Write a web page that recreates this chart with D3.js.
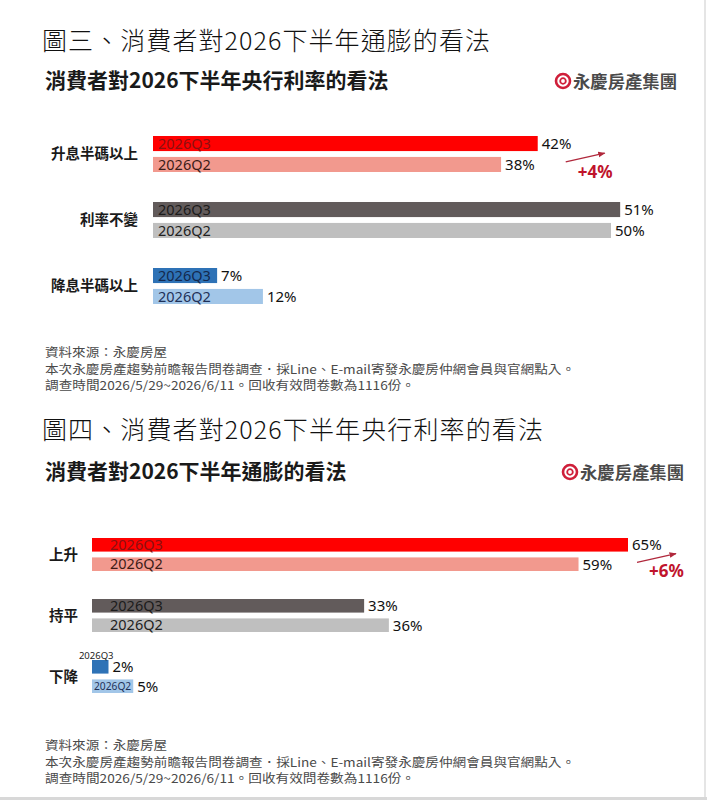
<!DOCTYPE html>
<html>
<head>
<meta charset="utf-8">
<script src="https://cdn.jsdelivr.net/npm/d3@7"></script>
<style>
  body { margin: 0; background: #fff; }
  svg { display: block; }
</style>
</head>
<body>
<div id="visualization"></div>
<script>
// data
var series = ["2026Q3", "2026Q2"];

var rate_categories = ["升息半碼以上", "利率不變", "降息半碼以上"];
var rate_q3 = [42, 51, 7];
var rate_q2 = [38, 50, 12];

var infl_categories = ["上升", "持平", "下降"];
var infl_q3 = [65, 33, 2];
var infl_q2 = [59, 36, 5];

var source_lines = [
    "資料來源：永慶房屋",
    "本次永慶房產趨勢前瞻報告問卷調查．採Line、E-mail寄發永慶房仲網會員與官網點入。",
    "調查時間2026/5/29~2026/6/11。回收有效問卷數為1116份。"
];
var source_widths = [122, 530, 370];
var logo_text = "永慶房產集團";

// colours per category row: [Q3, Q2]
var bar_colors = [["#ff0000", "#f2998e"], ["#625b5b", "#bfbfbf"], ["#2e72b6", "#a2c6e8"]];
var inner_colors = [["#8c1010", "#3d1c18"], ["#1c1c1c", "#222222"], ["#14294d", "#1f3158"]];

var CJK = "'Noto Sans CJK TC', 'Noto Sans', sans-serif";
var LAT = "'Noto Sans', 'Open Sans', sans-serif";

var width = 707, height = 800;

var svg = d3.select("#visualization")
    .append("svg")
    .attr("width", width)
    .attr("height", height);

svg.append("rect").attr("width", width).attr("height", height).attr("fill", "#fff");

// frame lines at the right and bottom edges
svg.append("line").attr("x1", 705).attr("x2", 705).attr("y1", 0).attr("y2", 797)
    .attr("stroke", "#dcdcdc").attr("stroke-width", 1.5);
svg.append("rect").attr("x", 0).attr("y", 797).attr("width", width).attr("height", 3).attr("fill", "#d8d8d8");

var defs = svg.append("defs");
defs.append("marker")
    .attr("id", "arrowhead")
    .attr("viewBox", "0 0 10 10")
    .attr("refX", 9).attr("refY", 5)
    .attr("markerWidth", 6).attr("markerHeight", 6)
    .attr("orient", "auto")
    .append("path")
    .attr("d", "M0,1 L10,5 L0,9 z")
    .attr("fill", "#b0283c");

function draw_logo(x, y) {
    var g = svg.append("g").attr("transform", "translate(" + x + "," + y + ")");
    g.append("circle").attr("r", 7).attr("fill", "none")
        .attr("stroke", "#cf1f3a").attr("stroke-width", 2.6);
    g.append("circle").attr("r", 2.8).attr("fill", "none")
        .attr("stroke", "#cf1f3a").attr("stroke-width", 1.8);
    g.append("text")
        .attr("x", 10).attr("y", 6.5)
        .attr("font-family", CJK).attr("font-weight", 700)
        .attr("font-size", "17px").attr("fill", "#4a4a4a")
        .attr("textLength", 104).attr("lengthAdjust", "spacingAndGlyphs")
        .text(logo_text);
}

function draw_panel(o) {
    // page heading
    svg.append("text")
        .attr("x", 42).attr("y", o.header_y)
        .attr("font-family", CJK).attr("font-weight", 300)
        .attr("font-size", "25px").attr("fill", "#111")
        .attr("textLength", o.header_len).attr("lengthAdjust", "spacing")
        .text(o.header);

    // chart title
    svg.append("text")
        .attr("x", 45).attr("y", o.sub_y)
        .attr("font-family", CJK).attr("font-weight", 700)
        .attr("font-size", "21px").attr("fill", "#1a1a1a")
        .text(o.subtitle);

    draw_logo(o.logo_x, o.logo_y);

    var rows = o.categories.map(function (c, i) {
        return {cat: i, name: c, values: [o.q3[i], o.q2[i]]};
    });

    var x = d3.scaleLinear().domain(o.x_domain).range(o.x_range);

    var n = o.categories.length, step = o.step, band = o.band;
    var y0 = d3.scaleBand()
        .domain(o.categories)
        .range([o.top, o.top + step * (n - 1) + band])
        .paddingInner((step - band) / step)
        .paddingOuter(0);
    var y1 = d3.scaleBand().domain(series).range([0, y0.bandwidth()]).paddingInner(o.inner_pad);

    var g = svg.append("g").attr("class", "bars");

    var groups = g.selectAll("g.group")
        .data(rows)
        .enter().append("g")
        .attr("class", "group")
        .attr("transform", function (d) { return "translate(0," + y0(d.name) + ")"; });

    // category labels
    groups.append("text")
        .attr("x", o.label_x)
        .attr("y", y0.bandwidth() / 2)
        .attr("dy", "0.36em")
        .attr("text-anchor", o.label_anchor)
        .attr("font-family", CJK).attr("font-weight", 700)
        .attr("font-size", "14.5px").attr("fill", "#1a1a1a")
        .text(function (d) { return d.name; });

    groups.each(function (row) {
        var gr = d3.select(this);
        series.forEach(function (s, j) {
            var v = row.values[j];
            var bx = x(0), bw = x(v) - x(0), by = y1(s), bh = y1.bandwidth();

            gr.append("rect")
                .attr("x", bx).attr("y", by)
                .attr("width", bw).attr("height", bh)
                .attr("fill", bar_colors[row.cat][j]);

            // series name inside the bar
            var t = gr.append("text")
                .attr("x", bx + o.text_pad)
                .attr("y", by + bh / 2)
                .attr("dy", "0.36em")
                .attr("font-family", LAT)
                .attr("font-size", "14.5px")
                .attr("fill", inner_colors[row.cat][j])
                .text(s);
            var tw = t.node().getComputedTextLength();
            if (tw > bw - o.text_pad - 3) {
                if (bw >= 30) {
                    var fs = 14.5 * (bw - 4) / tw;
                    t.attr("x", bx + 2).attr("font-size", fs + "px");
                } else {
                    t.attr("x", bx + bw / 2 - 4).attr("y", by - 1).attr("dy", null)
                        .attr("text-anchor", "middle").attr("font-size", "9.5px")
                        .attr("fill", "#222");
                }
            }

            // value label
            gr.append("text")
                .attr("x", x(v) + 4)
                .attr("y", by + bh / 2)
                .attr("dy", "0.36em")
                .attr("font-family", LAT)
                .attr("font-size", "15px").attr("fill", "#111")
                .text(v + "%");
        });
    });

    // change annotation on the first row
    var first = rows[0];
    var top0 = y0(first.name);
    var ax = x(first.values[0]) + o.arrow_dx;
    var q2top = top0 + y1(series[1]);
    var q3bot = top0 + y1(series[0]) + y1.bandwidth();
    svg.append("line")
        .attr("x1", ax).attr("y1", q2top + 5)
        .attr("x2", ax + 39).attr("y2", q3bot + 2)
        .attr("stroke", "#b0283c").attr("stroke-width", 1.2)
        .attr("marker-end", "url(#arrowhead)");
    svg.append("text")
        .attr("x", ax + 12)
        .attr("y", q2top + y1.bandwidth() + 6)
        .attr("font-family", LAT).attr("font-weight", 700)
        .attr("font-size", "17px").attr("fill", "#c0142c")
        .text("+" + (first.values[0] - first.values[1]) + "%");

    // source notes
    svg.append("g")
        .selectAll("text")
        .data(source_lines)
        .enter().append("text")
        .attr("x", 45)
        .attr("y", function (d, i) { return o.foot_y + i * 16.5; })
        .attr("font-family", CJK)
        .attr("font-size", "12px").attr("fill", "#4a4a4a")
        .attr("textLength", function (d, i) { return source_widths[i]; })
        .attr("lengthAdjust", "spacingAndGlyphs")
        .text(function (d) { return d; });
}

draw_panel({
    header: "圖三、消費者對2026下半年通膨的看法", header_y: 50, header_len: 448,
    subtitle: "消費者對2026下半年央行利率的看法", sub_y: 88,
    logo_x: 563, logo_y: 81,
    categories: rate_categories, q3: rate_q3, q2: rate_q2,
    x_domain: [0, 50], x_range: [153, 611],
    top: 136, step: 66, band: 36, inner_pad: 0.28,
    label_x: 138, label_anchor: "end", text_pad: 5,
    arrow_dx: 28, foot_y: 357
});

draw_panel({
    header: "圖四、消費者對2026下半年央行利率的看法", header_y: 439, header_len: 501,
    subtitle: "消費者對2026下半年通膨的看法", sub_y: 479,
    logo_x: 570, logo_y: 472,
    categories: infl_categories, q3: infl_q3, q2: infl_q2,
    x_domain: [0, 65], x_range: [92, 628],
    top: 538, step: 61, band: 33, inner_pad: 0.3,
    label_x: 49, label_anchor: "start", text_pad: 18,
    arrow_dx: 9, foot_y: 750
});
</script>
</body>
</html>
